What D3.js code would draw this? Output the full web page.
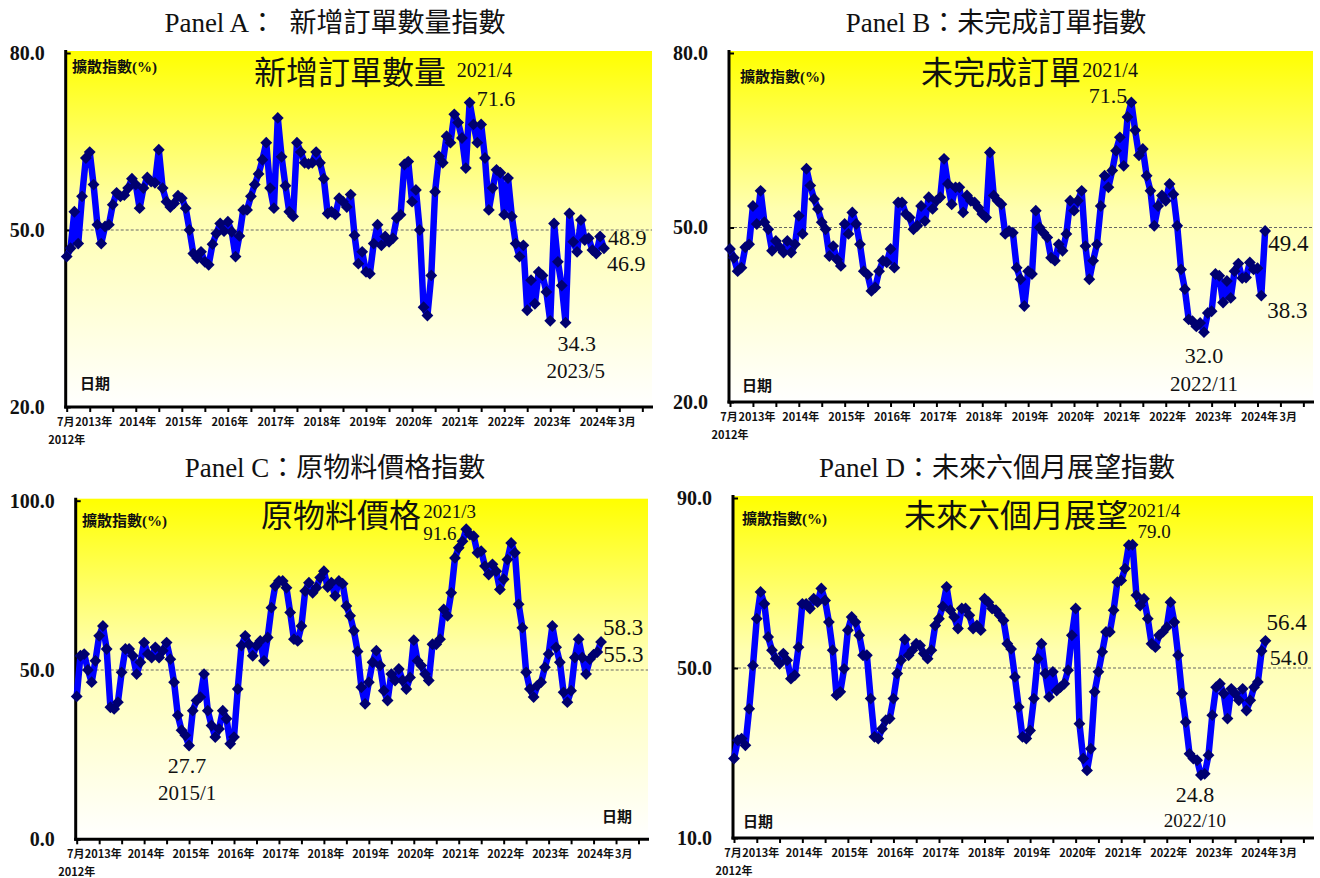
<!DOCTYPE html>
<html>
<head>
<meta charset="utf-8">
<script src="https://cdnjs.cloudflare.com/ajax/libs/d3/7.8.5/d3.min.js"></script>
<style>
  body { margin: 0; background: #fff; }
  text { font-family: "Liberation Serif", "Noto Sans CJK TC", serif; fill: #111; }
  .cjk { font-family: "Noto Sans CJK TC", sans-serif; }
</style>
</head>
<body>
<svg id="chart" width="1320" height="878"></svg>
<script>
// monthly values, Jul 2012 .. Mar 2024 (141 months)
const newOrders = [45.5,46.9,53.1,47.7,55.7,62.2,63.2,57.7,50.9,47.7,50.6,50.9,54.3,56.3,55.7,55.9,57.1,58.7,57.7,53.7,
  57.1,58.9,58.2,58.0,63.6,57.1,54.8,53.9,54.5,55.8,55.4,53.7,50.0,46.0,45.2,46.3,44.6,44.1,47.6,49.4,
  51.1,49.8,51.4,49.7,45.5,49.0,53.4,53.4,55.7,57.7,59.5,61.9,64.8,57.1,53.7,69.0,62.4,57.5,53.1,52.3,
  64.8,63.2,61.4,61.2,61.4,63.2,61.4,58.7,52.8,53.1,52.6,55.4,54.8,53.9,56.0,49.1,44.3,46.3,42.9,42.6,
  47.7,50.9,47.4,48.9,48.0,48.6,52.0,52.6,61.1,61.6,54.8,56.8,50.0,36.9,35.5,42.3,56.5,62.5,61.4,65.9,
  64.8,69.6,68.2,65.6,60.5,71.6,67.9,64.8,67.9,62.2,53.4,57.1,60.2,59.7,52.6,58.8,52.3,47.7,45.5,47.4,
  36.4,41.5,37.5,42.9,42.3,39.5,34.6,51.1,44.6,40.6,34.3,52.8,48.0,46.3,51.7,48.3,48.6,46.6,46.0,48.9,46.9];

const backlog = [46.3,44.8,42.5,43.1,46.6,47.1,53.7,50.6,56.3,50.9,49.7,46.0,47.7,46.6,45.7,47.7,45.7,47.1,52.0,48.9,
  60.1,57.2,54.9,53.2,50.9,49.7,45.1,46.8,44.5,43.4,50.6,48.9,52.6,50.6,47.1,42.5,41.9,39.1,39.7,42.5,
  44.3,44.0,46.3,43.1,54.3,54.3,52.3,51.7,49.7,50.3,53.7,51.1,55.2,53.2,54.6,55.2,61.8,57.5,54.0,56.9,
  56.9,52.6,55.5,54.6,54.3,53.4,52.3,51.7,62.9,55.5,54.6,54.0,48.9,49.4,49.1,43.1,41.1,36.5,42.5,42.0,
  52.9,50.0,49.1,48.3,44.8,44.3,47.1,46.0,48.9,54.6,52.9,54.6,56.3,46.8,41.1,44.3,47.1,53.7,58.9,56.9,
  59.8,63.2,65.5,60.6,69.0,71.5,66.7,62.4,63.5,58.9,56.3,50.3,53.7,55.5,54.6,57.5,55.7,50.3,42.8,39.4,
  34.2,33.9,33.0,33.6,32.0,35.3,35.6,42.0,41.7,37.1,40.8,37.9,42.5,43.8,41.3,41.4,44.0,42.8,43.0,38.3,49.4];

const prices = [42.2,54.2,54.7,50.0,46.4,52.7,60.1,63.0,56.2,39.0,38.5,40.5,49.3,56.2,56.2,54.2,48.8,52.3,58.1,54.7,
  53.7,56.7,53.7,55.7,58.1,53.2,46.4,36.6,32.2,30.7,27.7,38.0,41.0,42.0,48.8,38.0,33.6,30.2,32.6,38.0,
  35.6,28.2,30.2,44.4,57.2,60.1,57.6,54.2,57.2,58.6,52.7,59.6,68.4,74.8,76.3,76.3,74.3,67.0,59.1,58.6,
  63.0,73.3,75.8,72.8,74.3,77.3,79.2,74.5,75.8,71.9,76.3,75.5,68.9,66.0,61.6,55.5,44.9,40.0,46.4,52.3,
  55.7,51.3,43.9,41.0,48.8,46.9,50.3,46.9,44.4,47.8,58.8,52.7,51.3,48.8,46.9,57.6,57.6,59.1,67.9,66.0,
  72.8,83.1,86.1,88.0,91.6,90.0,89.5,84.6,85.1,80.7,78.2,81.2,79.2,73.8,76.8,82.6,87.5,84.6,69.4,62.5,
  49.3,44.4,42.0,45.4,46.4,50.8,54.7,63.0,56.7,52.3,43.4,40.5,43.9,53.7,59.1,53.7,48.8,53.2,54.5,55.3,58.3];

const outlook = [28.7,33.0,33.4,31.8,40.4,50.6,61.6,67.9,65.1,57.3,54.2,52.2,51.0,53.4,51.8,47.5,48.3,54.9,65.1,65.1,
  64.0,66.3,65.5,68.7,65.9,60.8,54.2,43.6,44.4,49.8,58.9,62.0,60.8,57.7,53.0,53.0,42.8,33.8,33.4,35.7,
  37.7,38.1,42.8,48.7,51.8,56.7,53.0,54.2,55.7,55.3,53.4,52.2,54.2,60.0,61.6,64.5,69.1,63.6,62.0,59.3,
  64.0,64.0,62.4,59.3,60.0,58.9,66.3,65.5,64.0,63.6,62.4,61.2,55.7,54.5,47.9,40.8,33.8,33.4,35.3,42.8,
  52.2,55.7,48.7,43.2,49.1,44.7,45.5,46.3,49.5,57.7,64.0,36.9,28.7,25.9,31.0,44.4,49.1,53.8,58.5,58.5,
  63.6,70.2,70.6,73.4,78.9,79.0,67.1,64.7,66.3,61.6,55.7,54.9,57.7,58.5,59.6,65.5,60.8,53.0,44.0,37.3,
  29.8,28.7,28.3,24.8,25.1,29.5,38.9,45.5,46.3,44.0,38.1,45.1,44.0,42.4,45.1,40.0,42.4,45.5,46.7,54.0,56.4];

// x axis: month index from Jul 2012; ticks every 6 months
const xTickMonths = d3.range(0, 151, 6);
const xLabels = ["7月","2013年","2014年","2015年","2016年","2017年","2018年","2019年","2020年","2021年","2022年","2023年","2024年","3月"];
const xLabelMonths = [0,6,18,30,42,54,66,78,90,102,114,126,138,145.5];

function monthText(i) {
  const m = 6 + i;
  return (2012 + Math.floor(m / 12)) + "/" + (m % 12 + 1);
}

const panels = [
  { title: "Panel A：  新增訂單數量指數", tx: 335, ty: 32,
    inner: "新增訂單數量", ix: 350, iy: 84,
    values: newOrders, yDomain: [20, 80], yTicks: [20, 50, 80],
    x0: 66.7, x1: 650, top: 53, bottom: 407,
    unit: [72, 72], date: [80, 389],
    notes: [
      {i: 105, k: "date", dx: -13, dy: -26, a: "start", s: 20},
      {i: 105, k: "val", dx: 7, dy: 3, a: "start", s: 22},
      {i: 130, k: "val", dx: -8, dy: 28, a: "start", s: 22},
      {i: 130, k: "date", dx: -19, dy: 55, a: "start", s: 21},
      {i: 139, k: "val", dx: 8, dy: 9, a: "start", s: 22},
      {i: 140, k: "val", dx: 3, dy: 23, a: "start", s: 22}
    ]},
  { title: "Panel B：未完成訂單指數", tx: 996, ty: 32,
    inner: "未完成訂單", ix: 1001, iy: 84,
    values: backlog, yDomain: [20, 80], yTicks: [20, 50, 80],
    x0: 730, x1: 1311, top: 53, bottom: 402,
    unit: [740, 82], date: [742, 391],
    notes: [
      {i: 105, k: "date", dx: -49, dy: -25, a: "start", s: 20},
      {i: 105, k: "val", dx: -4, dy: 1, a: "end", s: 22},
      {i: 124, k: "val", dx: 0, dy: 31, a: "middle", s: 22},
      {i: 124, k: "date", dx: 0, dy: 59, a: "middle", s: 21},
      {i: 140, k: "val", dx: 3, dy: 20, a: "start", s: 23},
      {i: 139, k: "val", dx: 6, dy: 22, a: "start", s: 23}
    ]},
  { title: "Panel C：原物料價格指數", tx: 335, ty: 477,
    inner: "原物料價格", ix: 341, iy: 527,
    values: prices, yDomain: [0, 100], yTicks: [0, 50, 100],
    x0: 76.7, x1: 646, top: 500.7, bottom: 839.3,
    unit: [82, 526], date: [602, 822],
    notes: [
      {i: 104, k: "date", dx: -43, dy: -11, a: "start", s: 19},
      {i: 104, k: "val", dx: -43, dy: 11, a: "start", s: 19},
      {i: 30, k: "val", dx: -2, dy: 27, a: "middle", s: 22},
      {i: 30, k: "date", dx: -2, dy: 54, a: "middle", s: 21},
      {i: 140, k: "val", dx: 2, dy: -7, a: "start", s: 23},
      {i: 139, k: "val", dx: 6, dy: 10, a: "start", s: 23}
    ]},
  { title: "Panel D：未來六個月展望指數", tx: 997, ty: 477,
    inner: "未來六個月展望", ix: 1016, iy: 527,
    values: outlook, yDomain: [10, 90], yTicks: [10, 50, 90],
    x0: 734, x1: 1311, top: 498, bottom: 838,
    unit: [742, 524], date: [743, 827],
    notes: [
      {i: 105, k: "date", dx: -5, dy: -28, a: "start", s: 19},
      {i: 105, k: "val", dx: 5, dy: -7, a: "start", s: 19},
      {i: 123, k: "val", dx: -6, dy: 27, a: "middle", s: 22},
      {i: 123, k: "date", dx: -6, dy: 52, a: "middle", s: 19},
      {i: 140, k: "val", dx: 1, dy: -11, a: "start", s: 23},
      {i: 139, k: "val", dx: 8, dy: 14, a: "start", s: 22}
    ]}
];

const svg = d3.select("#chart");

const grad = svg.append("defs").append("linearGradient")
  .attr("id", "bg").attr("x1", 0).attr("y1", 0).attr("x2", 0).attr("y2", 1);
grad.append("stop").attr("offset", "0%").attr("stop-color", "#ffff00");
grad.append("stop").attr("offset", "45%").attr("stop-color", "#ffffb0");
grad.append("stop").attr("offset", "100%").attr("stop-color", "#ffffff");

const fmt = d3.format(".1f");
const diamond = d3.symbol(d3.symbolSquare, 70);

panels.forEach(p => {
  const x = d3.scaleLinear().domain([0, 152]).range([p.x0, p.x1]);
  const y = d3.scaleLinear().domain(p.yDomain).range([p.bottom, p.top]);
  const left = x(0) - 1;
  const g = svg.append("g");

  // panel title
  g.append("text").attr("x", p.tx).attr("y", p.ty)
    .attr("text-anchor", "middle").style("font-size", "27px")
    .style("white-space", "pre").text(p.title);

  // background
  g.append("rect").attr("x", left).attr("y", p.top - 2)
    .attr("width", p.x1 + 2 - left).attr("height", p.bottom - p.top + 2)
    .attr("fill", "url(#bg)");

  // 50 reference line
  g.append("line").attr("x1", left).attr("x2", p.x1 + 2)
    .attr("y1", y(50)).attr("y2", y(50))
    .attr("stroke", "#666").attr("stroke-width", 1).attr("stroke-dasharray", "3,2");

  // y axis
  const ya = g.append("g").attr("transform", `translate(${left},0)`)
    .call(d3.axisLeft(y).tickValues(p.yTicks).tickSize(-5).tickSizeOuter(0).tickPadding(21).tickFormat(fmt));
  ya.select(".domain").remove();
  ya.selectAll(".tick line").attr("stroke", "#000").attr("stroke-width", 2);
  ya.selectAll(".tick text").style("font-family", "'Liberation Serif', serif")
    .style("font-size", "20px").style("font-weight", "bold").attr("fill", "#111");
  g.append("line").attr("x1", left).attr("x2", left)
    .attr("y1", p.top - 3).attr("y2", p.bottom + 1.5)
    .attr("stroke", "#000").attr("stroke-width", 3);

  // x axis
  const xa = g.append("g").attr("transform", `translate(0,${p.bottom})`)
    .call(d3.axisBottom(x).tickValues(xTickMonths).tickSize(5).tickSizeOuter(0).tickFormat(""));
  xa.select(".domain").remove();
  xa.selectAll(".tick line").attr("stroke", "#000").attr("stroke-width", 2);
  g.append("line").attr("x1", left - 1.5).attr("x2", p.x1 + 3)
    .attr("y1", p.bottom).attr("y2", p.bottom)
    .attr("stroke", "#000").attr("stroke-width", 3);

  g.selectAll(".xlab").data(xLabels).enter().append("text")
    .attr("class", "cjk")
    .attr("x", (d, i) => x(xLabelMonths[i]) + (i === 0 ? -1 : i === 1 ? 4 : 2))
    .attr("y", p.bottom + 19)
    .attr("text-anchor", "middle")
    .style("font-size", "11px").style("font-weight", "bold")
    .text(d => d);
  g.append("text").attr("class", "cjk")
    .attr("x", x(0)).attr("y", p.bottom + 37)
    .attr("text-anchor", "middle")
    .style("font-size", "11px").style("font-weight", "bold")
    .text("2012年");

  // labels inside plot
  g.append("text").attr("x", p.unit[0]).attr("y", p.unit[1])
    .style("font-size", "15px").style("font-weight", "bold")
    .html('<tspan class="cjk">擴散指數</tspan>(%)');
  g.append("text").attr("class", "cjk").attr("x", p.date[0]).attr("y", p.date[1])
    .style("font-size", "15px").style("font-weight", "bold").text("日期");
  g.append("text").attr("class", "cjk").attr("x", p.ix).attr("y", p.iy)
    .attr("text-anchor", "middle").style("font-size", "32px").text(p.inner);

  // series
  const line = d3.line().x((d, i) => x(i)).y(d => y(d));
  g.append("path").datum(p.values).attr("d", line)
    .attr("fill", "none").attr("stroke", "#0000ff")
    .attr("stroke-width", 6.5).attr("stroke-linejoin", "round");
  g.selectAll(".pt").data(p.values).enter().append("path")
    .attr("d", diamond)
    .attr("transform", (d, i) => `translate(${x(i)},${y(d)}) rotate(45)`)
    .attr("fill", "#000070");

  // annotations
  g.selectAll(".note").data(p.notes).enter().append("text")
    .attr("x", d => x(d.i) + d.dx)
    .attr("y", d => y(p.values[d.i]) + d.dy)
    .attr("text-anchor", d => d.a)
    .style("font-size", d => d.s + "px")
    .text(d => d.k === "val" ? fmt(p.values[d.i]) : monthText(d.i));
});
</script>
</body>
</html>
